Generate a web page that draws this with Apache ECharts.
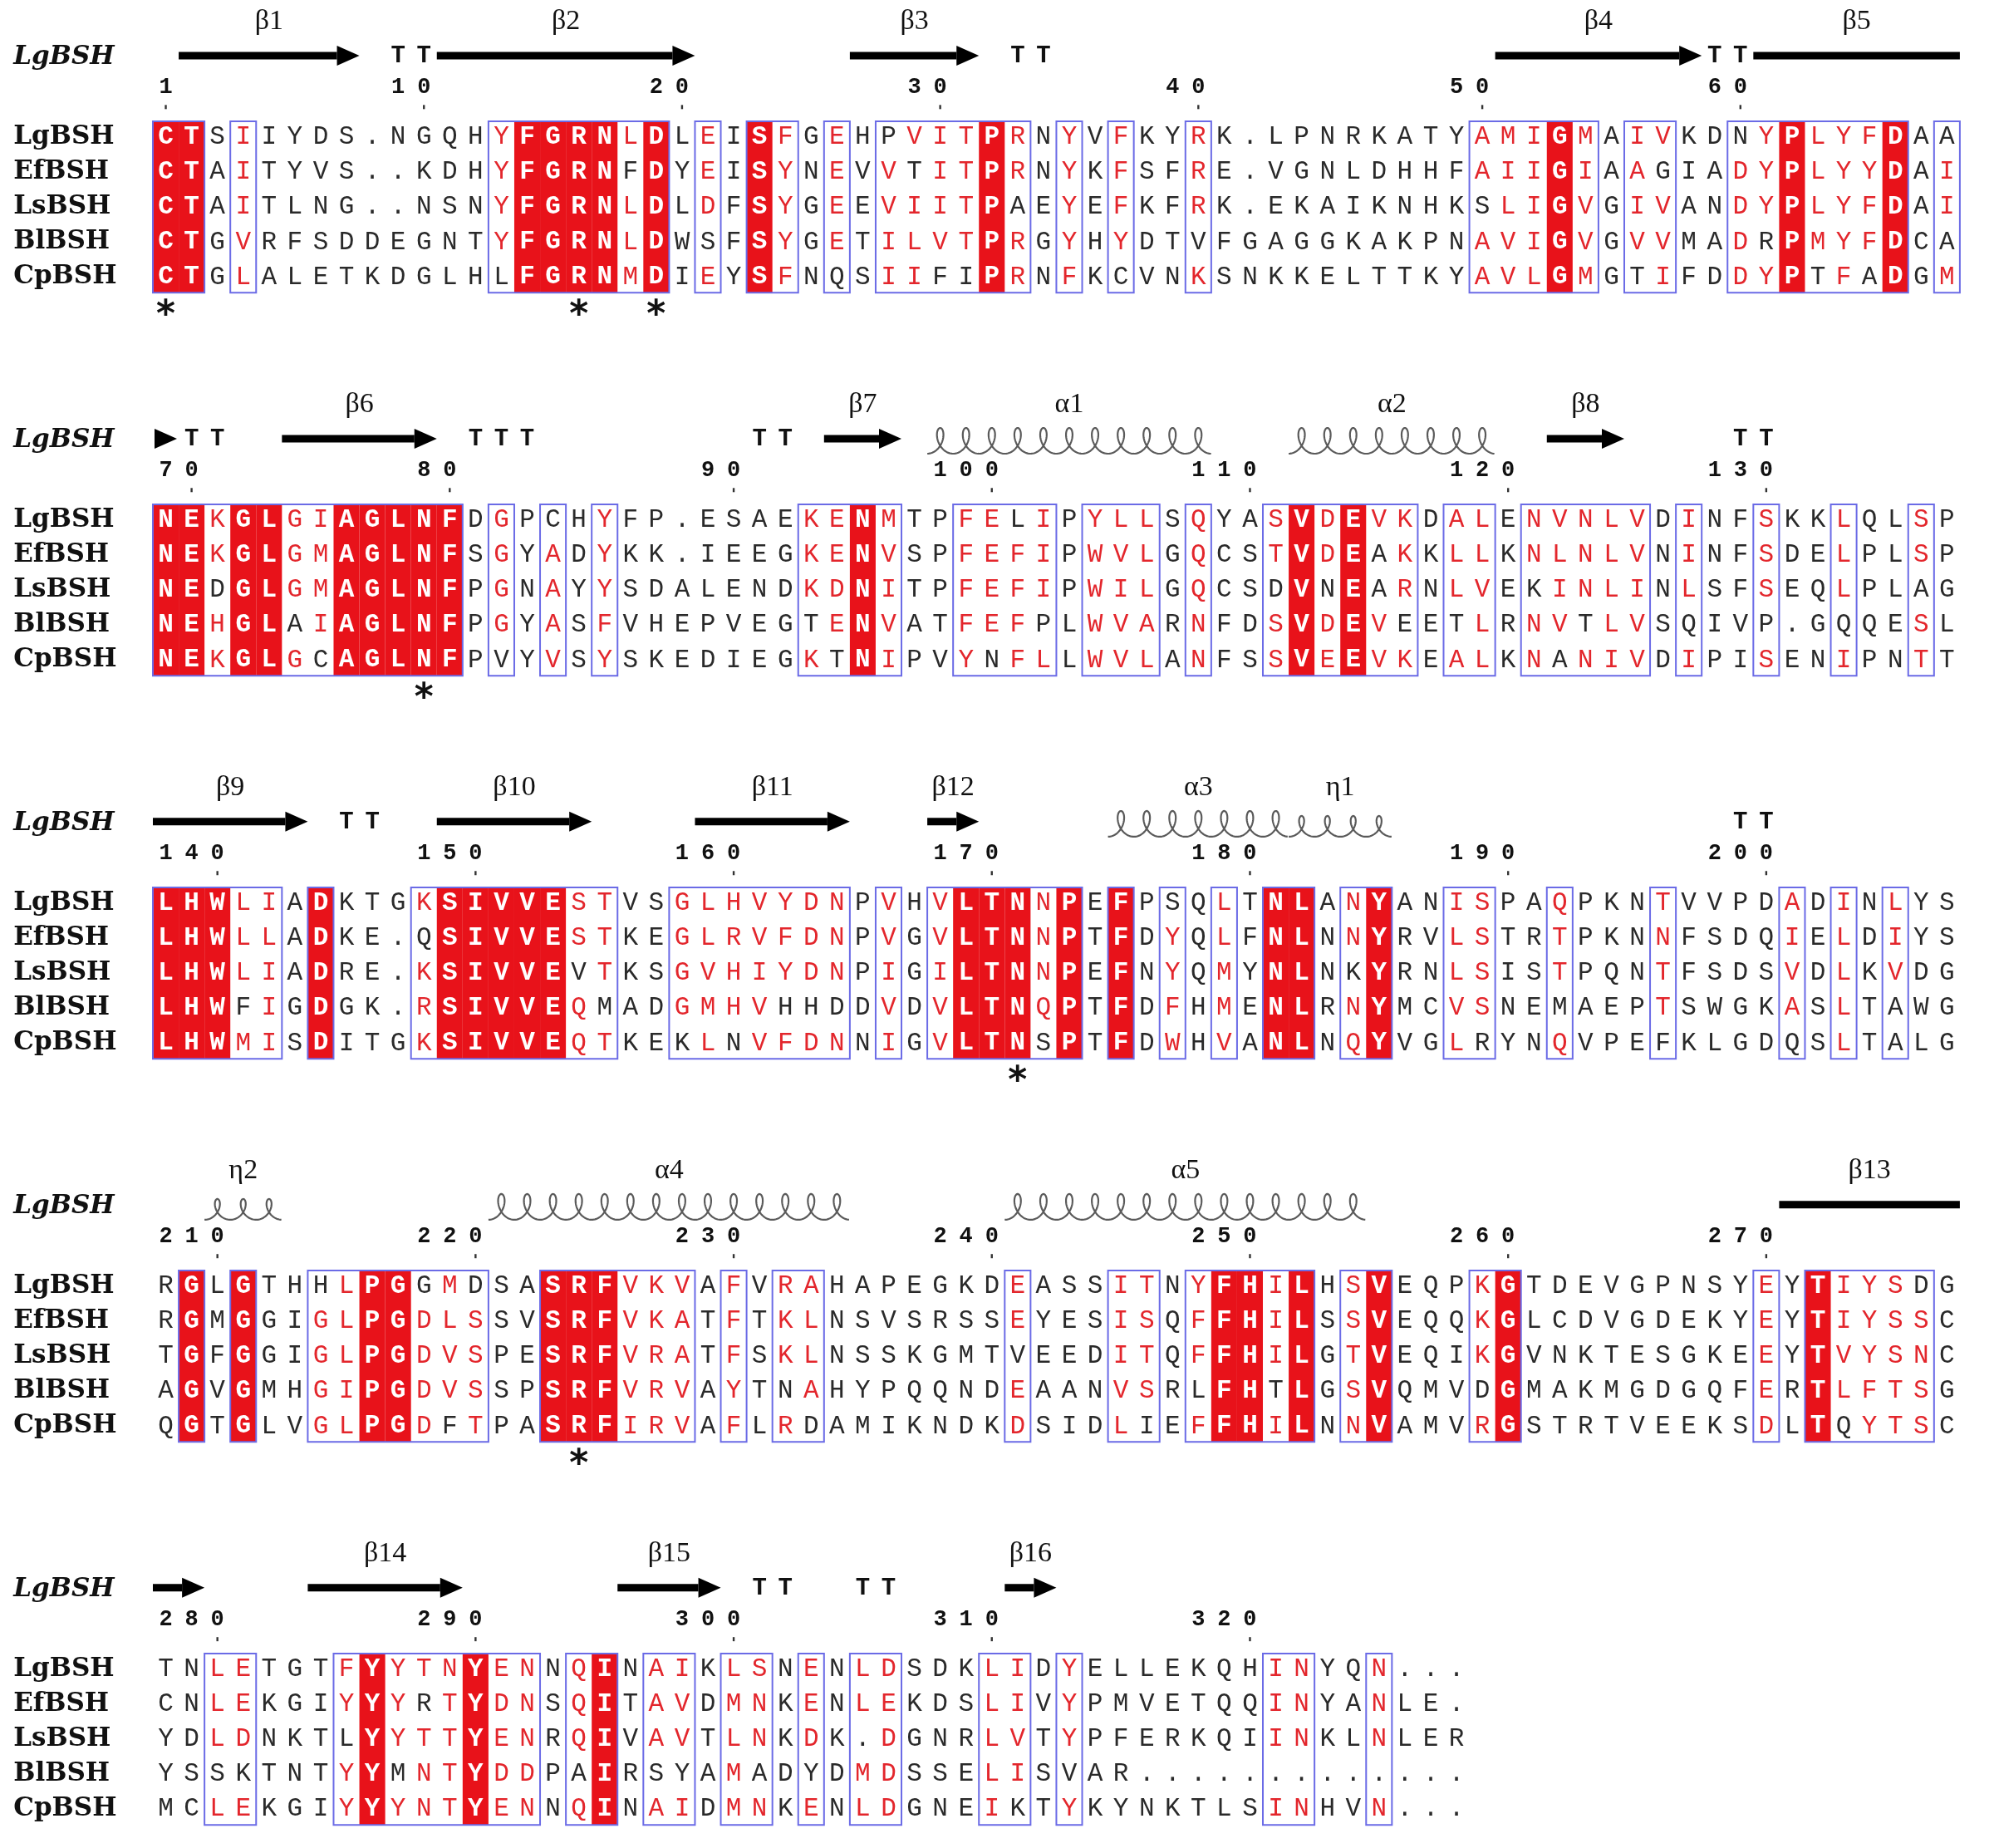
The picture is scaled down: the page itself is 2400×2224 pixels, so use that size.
<!DOCTYPE html>
<html lang="en">
<head>
<meta charset="UTF-8">
<title>BSH alignment</title>
<script src="https://cdn.jsdelivr.net/npm/echarts/dist/echarts.min.js"></script>
<style>body{margin:0;background:#fff}</style>
</head>
<body>
<div id="main" style="width:2400px;height:2224px;"></div>
<script>
// sequences, one array per alignment block (LgBSH, EfBSH, LsBSH, BlBSH, CpBSH)
var names = ['LgBSH', 'EfBSH', 'LsBSH', 'BlBSH', 'CpBSH'];

var blk1 = [
  'CTSIIYDS.NGQHYFGRNLDLEISFGEHPVITPRNYVFKYRK.LPNRKATYAMIGMAIVKDNYPLYFDAA',
  'CTAITYVS..KDHYFGRNFDYEISYNEVVTITPRNYKFSFRE.VGNLDHHFAIIGIAAGIADYPLYYDAI',
  'CTAITLNG..NSNYFGRNLDLDFSYGEEVIITPAEYEFKFRK.EKAIKNHKSLIGVGIVANDYPLYFDAI',
  'CTGVRFSDDEGNTYFGRNLDWSFSYGETILVTPRGYHYDTVFGAGGKAKPNAVIGVGVVMADRPMYFDCA',
  'CTGLALETKDGLHLFGRNMDIEYSFNQSIIFIPRNFKCVNKSNKKELTTKYAVLGMGTIFDDYPTFADGM'
];
var blk2 = [
  'NEKGLGIAGLNFDGPCHYFP.ESAEKENMTPFELIPYLLSQYASVDEVKDALENVNLVDINFSKKLQLSP',
  'NEKGLGMAGLNFSGYADYKK.IEEGKENVSPFEFIPWVLGQCSTVDEAKKLLKNLNLVNINFSDELPLSP',
  'NEDGLGMAGLNFPGNAYYSDALENDKDNITPFEFIPWILGQCSDVNEARNLVEKINLINLSFSEQLPLAG',
  'NEHGLAIAGLNFPGYASFVHEPVEGTENVATFEFPLWVARNFDSVDEVEETLRNVTLVSQIVP.GQQESL',
  'NEKGLGCAGLNFPVYVSYSKEDIEGKTNIPVYNFLLWVLANFSSVEEVKEALKNANIVDIPISENIPNTT'
];
var blk3 = [
  'LHWLIADKTGKSIVVESTVSGLHVYDNPVHVLTNNPEFPSQLTNLANYANISPAQPKNTVVPDADINLYS',
  'LHWLLADKE.QSIVVESTKEGLRVFDNPVGVLTNNPTFDYQLFNLNNYRVLSTRTPKNNFSDQIELDIYS',
  'LHWLIADRE.KSIVVEVTKSGVHIYDNPIGILTNNPEFNYQMYNLNKYRNLSISTPQNTFSDSVDLKVDG',
  'LHWFIGDGK.RSIVVEQMADGMHVHHDDVDVLTNQPTFDFHMENLRNYMCVSNEMAEPTSWGKASLTAWG',
  'LHWMISDITGKSIVVEQTKEKLNVFDNNIGVLTNSPTFDWHVANLNQYVGLRYNQVPEFKLGDQSLTALG'
];
var blk4 = [
  'RGLGTHHLPGGMDSASRFVKVAFVRAHAPEGKDEASSITNYFHILHSVEQPKGTDEVGPNSYEYTIYSDG',
  'RGMGGIGLPGDLSSVSRFVKATFTKLNSVSRSSEYESISQFFHILSSVEQQKGLCDVGDEKYEYTIYSSC',
  'TGFGGIGLPGDVSPESRFVRATFSKLNSSKGMTVEEDITQFFHILGTVEQIKGVNKTESGKEEYTVYSNC',
  'AGVGMHGIPGDVSSPSRFVRVAYTNAHYPQQNDEAANVSRLFHTLGSVQMVDGMAKMGDGQFERTLFTSG',
  'QGTGLVGLPGDFTPASRFIRVAFLRDAMIKNDKDSIDLIEFFHILNNVAMVRGSTRTVEEKSDLTQYTSC'
];
var blk5 = [
  'TNLETGTFYYTNYENNQINAIKLSNENLDSDKLIDYELLEKQHINYQN...',
  'CNLEKGIYYYRTYDNSQITAVDMNKENLEKDSLIVYPMVETQQINYANLE.',
  'YDLDNKTLYYTTYENRQIVAVTLNKDK.DGNRLVTYPFERKQIINKLNLER',
  'YSSKTNTYYMNTYDDPAIRSYAMADYDMDSSELISVAR.............',
  'MCLEKGIYYYNTYENNQINAIDMNKENLDGNEIKTYKYNKTLSINHVN...'
];

// column classes: R = strictly identical (red box), B = similar (framed), - = none
var cons1 = 'RR-B' + '---------' + 'BRRRRBR' + '-B-RB-B-' + 'BBBBRB-B-B--B' + '----------' + 'BBBRB-BB--' + 'BBRBBBR-B';
var cons2 = 'RRBRRBBRRRRR' + '-B-B-B' + '-------' + 'BBRB' + '--' + 'BBBB' + '-' + 'BBB' + '-B--' + 'BRBRBB' + '-BB-' + 'BBBBB' + '-B--B--B--B-';
var cons3 = 'RRRBB' + '-R---' + 'BRRRRRBB' + '--' + 'BBBBBBB' + '-B-' + 'BRRRBR' + '-R-B-B-' + 'RR-BR' + '--BB' + '--B---' + 'B----' + 'B-B-B--';
var cons4 = '-R-R--' + 'BBRRBBB' + '--' + 'RRRBBB' + '-B-BB' + '-------' + 'B---' + 'BB-' + 'BRRBR' + '-BR' + '---' + 'BR' + '---------' + 'B-' + 'RBBBB' + '-';
var cons5 = '--BB---' + 'BRBBBRBB' + '-BR-' + 'BB-BB-B-' + 'BB---BB-B' + '-------' + 'BB--B---';

// residues shown red although outside the main similarity group [block, column, row]
var redExtra = [[1, 58, 1], [2, 16, 4], [2, 39, 3], [3, 59, 1], [4, 21, 1], [4, 21, 2], [4, 47, 4], [4, 69, 2], [5, 12, 0], [5, 15, 3], [5, 24, 0]];

// secondary structure of LgBSH: [block, fromCol, toCol, kind, label]
var strands = [
  [1, 2, 8, 'arrow', 'β1'], [1, 12, 21, 'arrow', 'β2'], [1, 28, 32, 'arrow', 'β3'], [1, 53, 60, 'arrow', 'β4'], [1, 63, 70, 'bar', 'β5'],
  [2, 1, 1, 'tip', ''], [2, 6, 11, 'arrow', 'β6'], [2, 27, 29, 'arrow', 'β7'], [2, 55, 57, 'arrow', 'β8'],
  [3, 1, 6, 'arrow', 'β9'], [3, 12, 17, 'arrow', 'β10'], [3, 22, 27, 'arrow', 'β11'], [3, 31, 32, 'arrow', 'β12'],
  [4, 64, 70, 'bar', 'β13'],
  [5, 1, 2, 'arrow', ''], [5, 7, 12, 'arrow', 'β14'], [5, 19, 22, 'arrow', 'β15'], [5, 34, 35, 'arrow', 'β16']
];
// helices: [block, fromCol, toCol, label, big]
var helices = [[2, 31, 41, 'α1', 1], [2, 45, 52, 'α2', 1], [3, 38, 44, 'α3', 1], [3, 45, 48, 'η1', 0],
               [4, 3, 5, 'η2', 0], [4, 14, 27, 'α4', 1], [4, 34, 47, 'α5', 1]];
// turns: [block, fromCol, count]
var turns = [[1, 10, 2], [1, 34, 2], [1, 61, 2], [2, 2, 2], [2, 13, 3], [2, 24, 2], [2, 62, 2], [3, 8, 2], [3, 62, 2], [5, 24, 2], [5, 28, 2]];
// catalytic residues marked with *: [block, column]
var stars = [[1, 1], [1, 17], [1, 20], [2, 11], [3, 34], [4, 17]];

var blocks = [blk1, blk2, blk3, blk4, blk5];
var cons = [cons1, cons2, cons3, cons4, cons5];

var STRIDE = 10.95;
function rowY(b, r) { return b * STRIDE + r; }
var NAME_X = -5.4;
var RED = '#e8121a', RED_TXT = '#e3262c', BLUE = '#6b6be6', INK = '#2a2a2a';

var GROUP = {I:'h', L:'h', V:'h', M:'h', F:'a', Y:'a', W:'a', K:'b', R:'b', H:'b', D:'c', E:'c',
             N:'d', Q:'d', S:'s', T:'s', A:'A', G:'G', C:'C', P:'P'};
var extraKey = {};
redExtra.forEach(function (e) { extraKey[(e[0] - 1) + ':' + (e[1] - 1) + ':' + e[2]] = 1; });

var resPos = [], resChar = [], resKind = [];
var framePos = [], boxPos = [];
blocks.forEach(function (rows, b) {
  var cls = cons[b];
  for (var c = 0; c < cls.length; c++) {
    var cnt = {};
    rows.forEach(function (r) { var g = GROUP[r[c]]; if (g) cnt[g] = (cnt[g] || 0) + 1; });
    var max = 0;
    for (var g in cnt) max = Math.max(max, cnt[g]);
    rows.forEach(function (r, i) {
      var ch = r[c], kind = 0;
      if (cls[c] === 'R') kind = 2;
      else if (cls[c] === 'B' && GROUP[ch] && (cnt[GROUP[ch]] === max || extraKey[b + ':' + c + ':' + i])) kind = 1;
      resPos.push([c + 0.5, rowY(b, i)]);
      resChar.push(ch);
      resKind.push(kind);
    });
  }
  var start = -1;
  for (c = 0; c <= cls.length; c++) {
    var on = c < cls.length && cls[c] !== '-';
    if (on && start < 0) start = c;
    if (!on && start >= 0) { framePos.push([start, c, rowY(b, 0) - 0.45, rowY(b, 4) + 0.45]); start = -1; }
    if (on && cls[c] === 'R') boxPos.push([c, c + 1, rowY(b, 0) - 0.45, rowY(b, 4) + 0.45]);
  }
});

// residue numbering of LgBSH
var numPos = [], numTxt = [], tickPos = [];
var resNo = 0;
blocks.forEach(function (rows, b) {
  var lg = rows[0];
  for (var c = 0; c < lg.length; c++) {
    if (lg[c] === '.') continue;
    resNo++;
    if (resNo === 1 || resNo % 10 === 0) {
      var s = String(resNo);
      for (var k = 0; k < s.length; k++) {
        numPos.push([c + 0.5 - (s.length - 1 - k), rowY(b, -1.42)]);
        numTxt.push(s[k]);
      }
      tickPos.push([c + 0.5, rowY(b, -0.86)]);
    }
  }
});

// names
var namePos = [], nameTxt = [], nameFont = [];
blocks.forEach(function (rows, b) {
  namePos.push([NAME_X, rowY(b, -2.28)]); nameTxt.push('LgBSH'); nameFont.push('italic bold 31px "DejaVu Serif"');
  names.forEach(function (n, i) {
    namePos.push([NAME_X, rowY(b, i)]); nameTxt.push(n); nameFont.push('bold 31px "DejaVu Serif"');
  });
});

// secondary structure items
var ssPos = [], ssKind = [];
strands.forEach(function (s) { ssPos.push([s[1] - 1, s[2], rowY(s[0] - 1, -2.33)]); ssKind.push({k: s[3]}); });
helices.forEach(function (h) { ssPos.push([h[1] - 1, h[2], rowY(h[0] - 1, -1.9)]); ssKind.push({k: 'helix', big: h[4]}); });

var labPos = [], labTxt = [];
strands.concat(helices.map(function (h) { return [h[0], h[1], h[2], 'h', h[3]]; })).forEach(function (s) {
  if (!s[4]) return;
  labPos.push([(s[1] - 1 + s[2]) / 2, rowY(s[0] - 1, -3.3)]);
  labTxt.push(s[4]);
});

var turnPos = [], turnTxt = [];
turns.forEach(function (t) {
  for (var k = 0; k < t[2]; k++) { turnPos.push([t[1] - 1 + k + 0.5, rowY(t[0] - 1, -2.3)]); turnTxt.push('T'); }
});
var starPos = [], starTxt = [];
stars.forEach(function (s) { starPos.push([s[1] - 0.5, rowY(s[0] - 1, 5.12)]); starTxt.push('*'); });

function rectSeries(pos, style, z) {
  return {
    type: 'custom', coordinateSystem: 'cartesian2d', clip: false, silent: true, z: z, data: pos,
    renderItem: function (params, api) {
      var p0 = api.coord([api.value(0), api.value(2)]);
      var p1 = api.coord([api.value(1), api.value(3)]);
      return {type: 'rect', shape: {x: p0[0], y: p0[1], width: p1[0] - p0[0], height: p1[1] - p0[1]}, style: style};
    }
  };
}

function textSeries(pos, texts, styleFn, z) {
  return {
    type: 'custom', coordinateSystem: 'cartesian2d', clip: false, silent: true, z: z, data: pos,
    renderItem: function (params, api) {
      var p = api.coord([api.value(0), api.value(1)]);
      var st = styleFn(params.dataIndex);
      return {
        type: 'text',
        style: Object.assign({x: p[0], y: p[1], text: texts[params.dataIndex], textAlign: 'center', textVerticalAlign: 'middle'}, st)
      };
    }
  };
}

var ssSeries = {
  type: 'custom', coordinateSystem: 'cartesian2d', clip: false, silent: true, z: 5, data: ssPos,
  renderItem: function (params, api) {
    var it = ssKind[params.dataIndex];
    var a = api.coord([api.value(0), api.value(2)]);
    var b = api.coord([api.value(1), api.value(2)]);
    var L = a[0], R = b[0], y = a[1];
    var HL = 27, HH = 12, BH = 4.5;
    if (it.k === 'helix') {
      var n = Math.round(api.value(1) - api.value(0));
      var p = (R - L) / n, H = it.big ? 31 : 25, d = it.big ? 10.5 : 9.5;
      var pts = [];
      for (var t = -Math.PI; t <= 2 * Math.PI * n - Math.PI + 1e-6; t += 0.1) {
        pts.push([L + p / 2 + p * t / (2 * Math.PI) - d * Math.sin(t), y - H * (1 + Math.cos(t)) / 2]);
      }
      return {type: 'polyline', shape: {points: pts}, style: {stroke: '#5a5a5a', lineWidth: 2.2, fill: null}};
    }
    if (it.k === 'bar') {
      return {type: 'rect', shape: {x: L, y: y - BH, width: R - L, height: 2 * BH}, style: {fill: '#000'}};
    }
    if (it.k === 'tip') {
      return {type: 'polygon', shape: {points: [[L + 2, y - HH], [L + 2 + HL, y], [L + 2, y + HH]]}, style: {fill: '#000'}};
    }
    return {
      type: 'group', children: [
        {type: 'rect', shape: {x: L, y: y - BH, width: R - HL - L, height: 2 * BH}, style: {fill: '#000'}},
        {type: 'polygon', shape: {points: [[R - HL, y - HH], [R, y], [R - HL, y + HH]]}, style: {fill: '#000'}}
      ]
    };
  }
};

var tickSeries = {
  type: 'custom', coordinateSystem: 'cartesian2d', clip: false, silent: true, z: 5, data: tickPos,
  renderItem: function (params, api) {
    var p = api.coord([api.value(0), api.value(1)]);
    return {type: 'rect', shape: {x: p[0] - 1.2, y: p[1] - 2.5, width: 2.4, height: 5}, style: {fill: '#333'}};
  }
};

var chart = echarts.init(document.getElementById('main'));
chart.setOption({
  animation: false,
  backgroundColor: '#fff',
  grid: {left: 0, right: 0, top: 0, bottom: 0},
  xAxis: {type: 'value', min: -5.922, max: 71.323, show: false},
  yAxis: {type: 'value', min: -3.92, max: 48.91, inverse: true, show: false},
  series: [
    rectSeries(boxPos, {fill: RED}, 1),
    rectSeries(framePos, {fill: null, stroke: BLUE, lineWidth: 2}, 2),
    textSeries(resPos, resChar, function (i) {
      var k = resKind[i];
      if (k === 2) return {fill: '#fff', font: 'bold 31px "Liberation Mono"'};
      return {fill: k === 1 ? RED_TXT : INK, font: '31px "Liberation Mono"'};
    }, 3),
    textSeries(namePos, nameTxt, function (i) {
      return {fill: '#111', font: nameFont[i], textAlign: 'left'};
    }, 3),
    textSeries(numPos, numTxt, function () { return {fill: '#111', font: 'bold 27px "Liberation Mono"'}; }, 3),
    tickSeries,
    ssSeries,
    textSeries(labPos, labTxt, function () { return {fill: '#111', font: '34px "Liberation Serif"'}; }, 3),
    textSeries(turnPos, turnTxt, function () { return {fill: '#111', font: 'bold 29px "Liberation Mono"'}; }, 3),
    textSeries(starPos, starTxt, function () { return {fill: '#111', font: 'bold 44px "DejaVu Sans Mono"'}; }, 3)
  ]
});
</script>
</body>
</html>
